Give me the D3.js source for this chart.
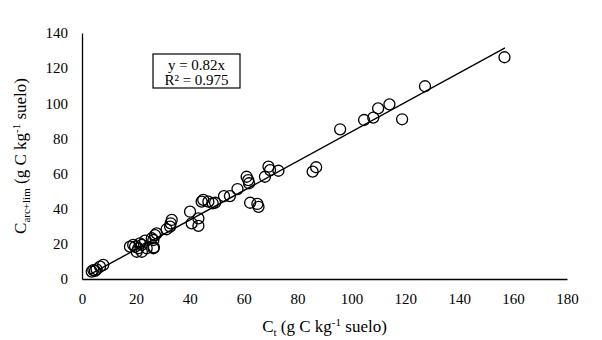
<!DOCTYPE html>
<html>
<head>
<meta charset="utf-8">
<script src="https://cdn.jsdelivr.net/npm/d3@7"></script>
<style>
  body { margin: 0; background: #fff; }
  svg { display: block; }
  svg text { font-family: 'Liberation Serif', 'Times New Roman', 'DejaVu Serif', serif; fill: #000; }
</style>
</head>
<body>
<div id="chart"></div>
<script>
// Ct (x) vs Carc+lim (y), g C kg-1 suelo
const ctVals = [3.6, 4.2, 4.8, 5.4, 6.7, 7.9,
  17.8, 19.0, 19.7, 20.3, 20.9, 21.5, 22.2, 22.2, 23.4, 24.0, 25.9, 26.5, 26.5, 26.7, 27.1, 27.7,
  31.4, 32.7, 32.9, 33.3, 40.1, 40.7, 43.2, 43.2, 44.4, 45.0, 46.9, 48.5, 49.4, 52.7, 54.9, 57.7,
  61.1, 61.7, 62.0, 62.4, 65.1, 65.5, 67.9, 69.2, 69.8, 72.9,
  85.6, 86.9, 95.8, 104.7, 108.1, 109.9, 114.1, 118.8, 127.3, 156.8];
const carcVals = [4.2, 5.1, 4.6, 5.5, 7.0, 8.0,
  18.4, 19.4, 18.4, 15.5, 17.5, 20.3, 15.5, 19.4, 21.8, 17.5, 23.2, 17.5, 22.2, 18.0, 25.0, 26.0,
  28.3, 29.8, 31.7, 33.6, 38.3, 31.7, 34.5, 30.2, 44.0, 45.0, 44.0, 43.1, 43.4, 47.2, 47.2, 51.2,
  58.2, 56.3, 54.5, 43.4, 42.7, 41.1, 58.2, 63.9, 62.0, 61.6,
  61.1, 63.6, 85.2, 90.5, 91.8, 97.1, 99.4, 90.9, 109.7, 126.2];
const trendX = [3, 157];
const trendY = [2.6, 131.5];
const xTicks = [0, 20, 40, 60, 80, 100, 120, 140, 160, 180];
const yTicks = [0, 20, 40, 60, 80, 100, 120, 140];
const eqLines = ["y = 0.82x", "R² = 0.975"];

const FONT = "Liberation Serif";
const W = 602, H = 340;
const m = { t: 33, r: 35, b: 61, l: 82 };
const svg = d3.select("#chart").append("svg").attr("width", W).attr("height", H)
  .attr("font-family", FONT);

const x = d3.scaleLinear().domain([0, 180]).range([m.l, W - m.r]);
const y = d3.scaleLinear().domain([0, 140]).range([H - m.b, m.t]);

// axes (Excel style: line only, no tick marks)
const gx = svg.append("g").attr("transform", `translate(0,${H - m.b})`)
  .call(d3.axisBottom(x).tickValues(xTicks).tickSize(0).tickPadding(14));
const gy = svg.append("g").attr("transform", `translate(${m.l},0)`)
  .call(d3.axisLeft(y).tickValues(yTicks).tickSize(0).tickPadding(14));
[gx, gy].forEach(g => {
  g.attr("font-family", FONT).attr("font-size", 15);
  g.selectAll("text").attr("font-family", FONT).attr("fill", "#000");
  g.select(".domain").attr("stroke", "#000").attr("stroke-width", 1.3);
});

// trendline
const pts = ctVals.map((v, i) => ({ x: v, y: carcVals[i] }));
svg.append("line")
  .attr("x1", x(trendX[0])).attr("y1", y(trendY[0]))
  .attr("x2", x(trendX[1])).attr("y2", y(trendY[1]))
  .attr("stroke", "#000").attr("stroke-width", 1.4);

// puntos
svg.append("g").selectAll("circle").data(pts).join("circle")
  .attr("cx", d => x(d.x)).attr("cy", d => y(d.y)).attr("r", 5.5)
  .attr("fill", "none").attr("stroke", "#000").attr("stroke-width", 1.3);

// equation box
const bx = 153, by = 54;
svg.append("rect").attr("x", bx).attr("y", by).attr("width", 87).attr("height", 34)
  .attr("fill", "#fff").attr("stroke", "#000").attr("stroke-width", 1.2);
svg.append("g").selectAll("text").data(eqLines).join("text")
  .attr("x", bx + 43.5).attr("y", (d, i) => by + 16 + i * 14.5)
  .attr("text-anchor", "middle").attr("font-size", 15).text(d => d);

// axis titles
const xt = svg.append("text").attr("x", x(90)).attr("y", 332)
  .attr("text-anchor", "middle").attr("font-size", 17);
xt.append("tspan").text("C");
xt.append("tspan").attr("font-size", 11).attr("dy", 4).text("t");
xt.append("tspan").attr("dy", -4).text(" (g C kg");
xt.append("tspan").attr("font-size", 11).attr("dy", -6).text("-1");
xt.append("tspan").attr("dy", 6).text(" suelo)");

const yt = svg.append("text").attr("transform", `translate(26,${y(70)}) rotate(-90)`)
  .attr("text-anchor", "middle").attr("font-size", 17);
yt.append("tspan").text("C");
yt.append("tspan").attr("font-size", 11).attr("dy", 4).text("arc+lim");
yt.append("tspan").attr("dy", -4).text(" (g C kg");
yt.append("tspan").attr("font-size", 11).attr("dy", -6).text("-1");
yt.append("tspan").attr("dy", 6).text(" suelo)");
</script>
</body>
</html>
